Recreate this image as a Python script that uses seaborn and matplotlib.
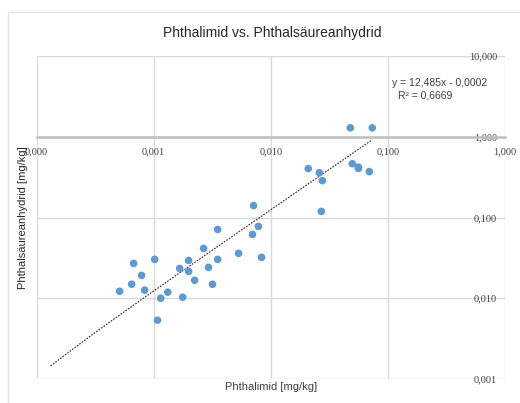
import numpy as np
import pandas as pd
import seaborn as sns
import matplotlib.pyplot as plt
from matplotlib.patches import Rectangle
from matplotlib.ticker import NullLocator

phthalimid = [0.00713, 0.00785, 0.00698, 0.00352, 0.00267, 0.00531, 0.00834,
              0.000675, 0.00102, 0.00199, 0.00352, 0.00167, 0.00199, 0.00294,
              0.000790, 0.00224, 0.000649, 0.000513, 0.000838, 0.00318,
              0.00132, 0.00115, 0.00177, 0.00108,
              0.0478, 0.0736, 0.0209, 0.0260, 0.0276, 0.0497, 0.0560, 0.0560,
              0.0694, 0.0270]
psa = [0.1406, 0.0775, 0.0617, 0.0711, 0.0414, 0.0360, 0.0321,
       0.0270, 0.0303, 0.0294, 0.0303, 0.0234, 0.0215, 0.0241,
       0.0192, 0.0167, 0.0149, 0.0122, 0.0126, 0.0149,
       0.0119, 0.0100, 0.0103, 0.00535,
       1.29, 1.29, 0.403, 0.359, 0.286, 0.464, 0.420, 0.405,
       0.370, 0.119]

# Trendlinie (Excel, linear)
slope = 12.485
intercept = -0.0002
r2 = 0.6669
trend_start = 0.000132

x_ticks = [0.0001, 0.001, 0.01, 0.1, 1]
x_labels = ['0,000', '0,001', '0,010', '0,100', '1,000']
y_ticks = [0.001, 0.01, 0.1, 1, 10]
y_labels = ['0,001', '0,010', '0,100', '1,000', '10,000']

sns.set_style('white')
plt.rcParams['font.family'] = ['Liberation Sans', 'DejaVu Sans']

W, H = 520, 403
fig = plt.figure(figsize=(W / 100, H / 100), dpi=100)
ax = fig.add_axes([36.5 / W, 1 - 379 / H, (505 - 36.5) / W, (379 - 56) / H])

df = pd.DataFrame({'Phthalimid': phthalimid, 'PSA': psa})
sns.scatterplot(data=df, x='Phthalimid', y='PSA', ax=ax, color='#5B9BD5',
                s=30, edgecolor='none', zorder=3, legend=False)

xt = np.geomspace(trend_start, max(phthalimid), 300)
ax.plot(xt, slope * xt + intercept, ls=(0, (1.5, 1.2)), color='#262626', lw=0.8, zorder=2)

ax.set_xscale('log')
ax.set_yscale('log')
ax.set_xlim(x_ticks[0], x_ticks[-1])
ax.set_ylim(y_ticks[0], y_ticks[-1])
ax.xaxis.set_minor_locator(NullLocator())
ax.yaxis.set_minor_locator(NullLocator())
ax.set_xticks(x_ticks)
ax.set_xticklabels(x_labels)
ax.set_yticks(y_ticks)
ax.set_yticklabels(y_labels)
ax.grid(True, color='#D9D9D9', lw=1)
ax.set_axisbelow(True)

for s in ['top', 'left', 'right']:
    ax.spines[s].set_visible(False)
ax.spines['bottom'].set_position(('data', 1))
ax.spines['bottom'].set_color('#BFBFBF')
ax.spines['bottom'].set_linewidth(1.8)
ax.spines['bottom'].set_zorder(1)

ax.tick_params(axis='x', length=0, pad=7.5, labelsize=7.5, labelcolor='#404040')
ax.tick_params(axis='y', left=False, labelleft=False, right=False, labelright=True,
               length=0, pad=-5.8, labelsize=7.5, labelcolor='#404040')
for t in ax.get_xticklabels() + ax.get_yticklabels():
    t.set_fontfamily('Liberation Serif')
for t in ax.get_yticklabels():
    t.set_horizontalalignment('right')

ax.set_xlabel('Phthalimid [mg/kg]', fontsize=8, color='#404040')
ax.xaxis.set_label_coords(0.5, -0.008)
ax.set_ylabel('Phthalsäureanhydrid [mg/kg]', fontsize=8, color='#262626')
ax.yaxis.set_label_coords(-(36.5 - 28) / (505 - 36.5), 0.5)

fig.text(272 / W, 1 - 33 / H, 'Phthalimid vs. Phthalsäureanhydrid',
         ha='center', va='center', fontsize=10, color='#262626')
fig.text(392 / W, 1 - 83 / H, 'y = 12,485x - 0,0002', ha='left', va='center',
         fontsize=7.5, color='#404040')
fig.text(398 / W, 1 - 96 / H, f'R² = {r2:.4f}'.replace('.', ','), ha='left', va='center',
         fontsize=7.5, color='#404040')

fig.patches.append(Rectangle((8 / W, -0.1), 1.2, (H - 12) / H + 0.1,
                             transform=fig.transFigure, fill=False,
                             ec='#E3E3E3', lw=1))

fig.savefig('out.png', dpi=100)
